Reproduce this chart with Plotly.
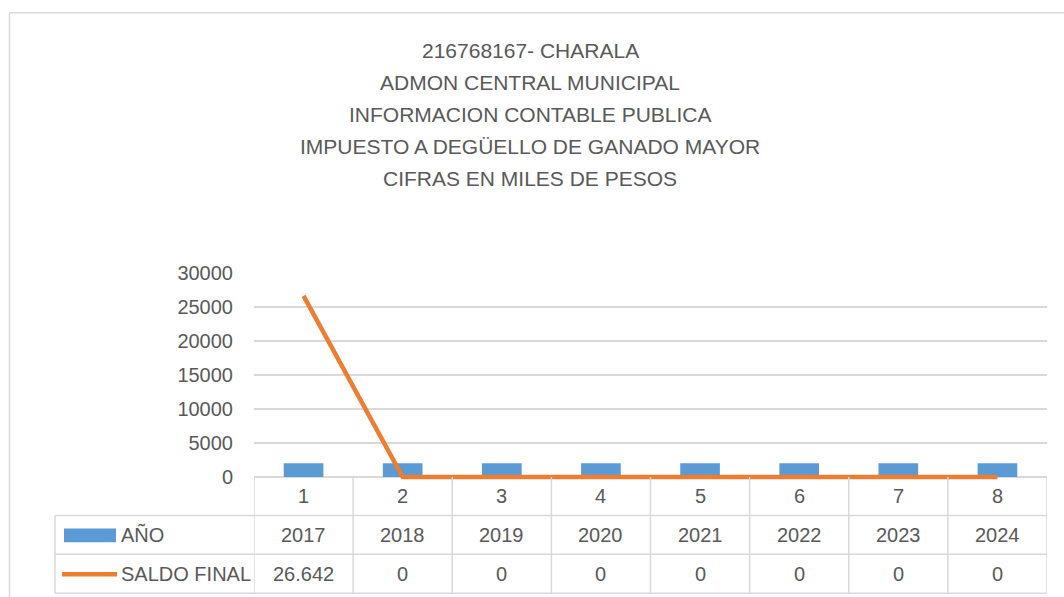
import plotly.graph_objects as go

# ---- data ----
categories = [1, 2, 3, 4, 5, 6, 7, 8]
anio = [2017, 2018, 2019, 2020, 2021, 2022, 2023, 2024]
saldo_final = [26642, 0, 0, 0, 0, 0, 0, 0]
title_lines = [
    "216768167- CHARALA",
    "ADMON CENTRAL MUNICIPAL",
    "INFORMACION CONTABLE PUBLICA",
    "IMPUESTO A DEGÜELLO DE GANADO MAYOR",
    "CIFRAS EN MILES DE PESOS",
]
series_names = ["AÑO", "SALDO FINAL"]
y_ticks = [0, 5000, 10000, 15000, 20000, 25000, 30000]

# ---- layout geometry (pixels) ----
WIDTH, HEIGHT = 1064, 597
PL, PR = 254, 1047          # plot left/right
PT, PB = 273, 480.5         # plot top/bottom
Y_TOP = 30000
Y_ZERO_PX = 477.5
y_min = -(PB - Y_ZERO_PX) / (Y_ZERO_PX - PT) * Y_TOP

def xp(px):
    return (px - PL) / (PR - PL)

def yp(py):
    return (PB - py) / (PB - PT)

FONT = "Liberation Sans, Arial, sans-serif"
TXT = "#595959"
GRID = "#d9d9d9"
BLUE = "#5b9bd5"
ORANGE = "#ed7d31"

fig = go.Figure()
fig.add_trace(go.Bar(x=categories, y=anio, name=series_names[0],
                     marker=dict(color=BLUE, line=dict(width=0)), width=0.4))
fig.add_trace(go.Scatter(x=categories, y=saldo_final, name=series_names[1],
                         mode="lines", line=dict(color=ORANGE, width=4.5)))

shapes = []
annotations = []

# outer chart border (left and top)
shapes.append(dict(type="line", xref="paper", yref="paper",
                   x0=xp(9.5), x1=xp(WIDTH + 5), y0=yp(12), y1=yp(12),
                   line=dict(color=GRID, width=1.5)))
shapes.append(dict(type="line", xref="paper", yref="paper",
                   x0=xp(9.5), x1=xp(9.5), y0=yp(12), y1=yp(HEIGHT + 5),
                   line=dict(color=GRID, width=1.5)))

# data table lines
row_y = [Y_ZERO_PX, 516, 555, 594]
for i, ry in enumerate(row_y):
    x0 = PL if i == 0 else 55
    shapes.append(dict(type="line", xref="paper", yref="paper",
                       x0=xp(x0), x1=xp(PR), y0=yp(ry), y1=yp(ry),
                       line=dict(color=GRID, width=1.5), layer="below"))
shapes.append(dict(type="line", xref="paper", yref="paper",
                   x0=xp(55), x1=xp(55), y0=yp(516), y1=yp(594),
                   line=dict(color=GRID, width=1.5)))
for k in range(len(categories) + 1):
    xb = categories[0] - 0.5 + k
    shapes.append(dict(type="line", xref="x", yref="paper",
                       x0=xb, x1=xb, y0=yp(Y_ZERO_PX), y1=yp(594),
                       line=dict(color=GRID, width=1.5)))

# legend keys in table
shapes.append(dict(type="rect", xref="paper", yref="paper",
                   x0=xp(64), x1=xp(116), y0=yp(543), y1=yp(529),
                   fillcolor=BLUE, line=dict(width=0)))
shapes.append(dict(type="line", xref="paper", yref="paper",
                   x0=xp(62), x1=xp(117), y0=yp(575), y1=yp(575),
                   line=dict(color=ORANGE, width=4.5)))

def fmt(v):
    return f"{v:,}".replace(",", ".")

row_centers = [(row_y[0] + row_y[1]) / 2, (row_y[1] + row_y[2]) / 2, (row_y[2] + row_y[3]) / 2]
for c, a, s in zip(categories, anio, saldo_final):
    for txt, rc in ((str(c), row_centers[0]), (str(a), row_centers[1]), (fmt(s), row_centers[2])):
        annotations.append(dict(x=c, xref="x", y=yp(rc), yref="paper", text=txt,
                                showarrow=False, xanchor="center", yanchor="middle",
                                font=dict(family=FONT, size=20, color=TXT)))
for name, rc in zip(series_names, row_centers[1:]):
    annotations.append(dict(x=xp(119), xref="paper", y=yp(rc), yref="paper", text=name,
                            showarrow=False, xanchor="left", yanchor="middle",
                            font=dict(family=FONT, size=20, color=TXT)))

# title
for i, line in enumerate(title_lines):
    annotations.append(dict(x=xp(530), xref="paper", y=yp(49.5 + 32.2 * i), yref="paper",
                            text=line, showarrow=False, xanchor="center", yanchor="middle",
                            font=dict(family=FONT, size=21, color=TXT)))

fig.update_layout(
    width=WIDTH, height=HEIGHT,
    margin=dict(l=PL, r=WIDTH - PR, t=PT, b=HEIGHT - PB, pad=0),
    paper_bgcolor="white", plot_bgcolor="white",
    showlegend=False, bargap=0.6,
    shapes=shapes, annotations=annotations,
    font=dict(family=FONT, color=TXT),
)
fig.update_xaxes(type="linear", range=[0.5, 8.5], showticklabels=False, showgrid=False,
                 zeroline=False, showline=False, ticks="")
fig.update_yaxes(range=[y_min, Y_TOP], tickvals=y_ticks, tickformat="d",
                 showgrid=True, gridcolor=GRID, gridwidth=1.5, zeroline=False,
                 showline=False, ticks="", ticklabelstandoff=20,
                 tickfont=dict(family=FONT, size=20, color=TXT))

fig.write_html("out.html", config={"displayModeBar": False},
               post_script="document.body.style.margin='0';document.body.style.overflow='hidden';")
